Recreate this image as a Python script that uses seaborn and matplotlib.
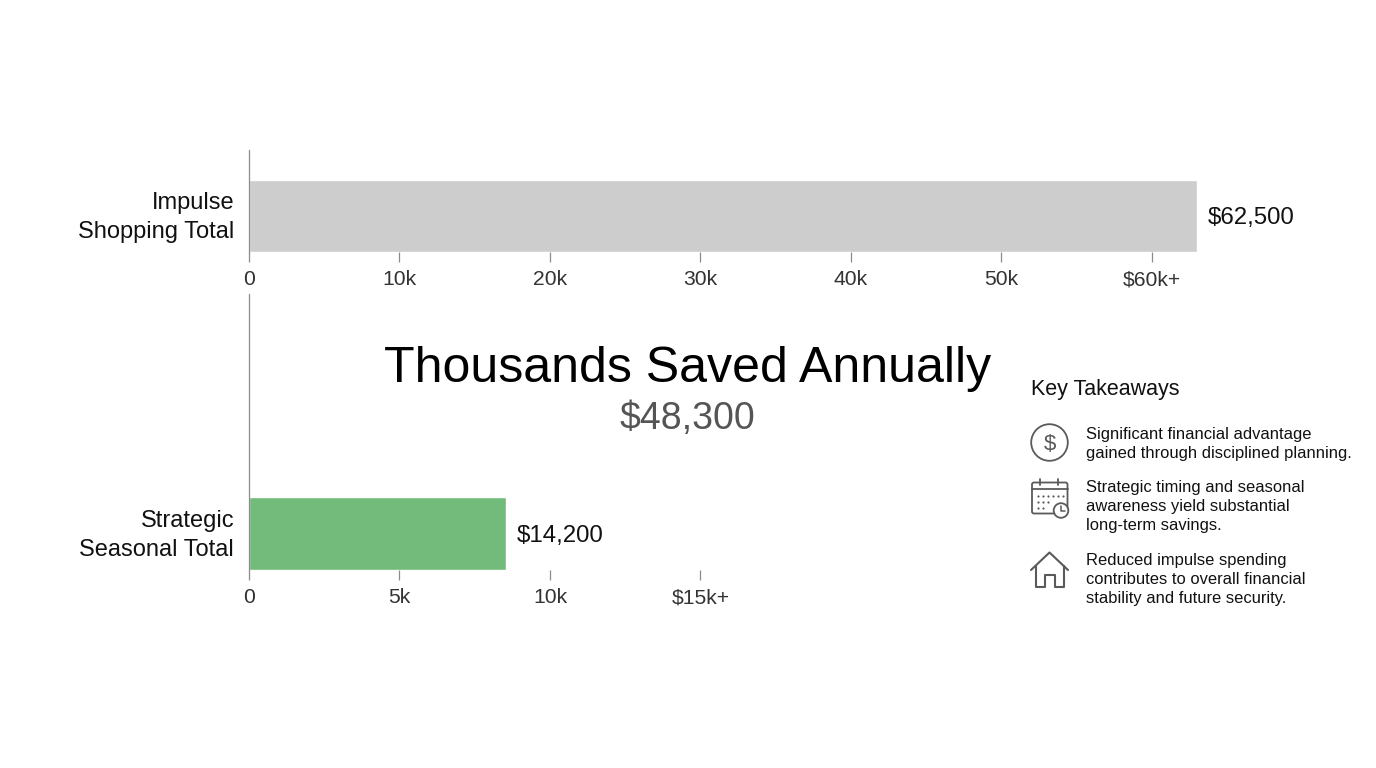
import matplotlib
matplotlib.use("Agg")
import matplotlib.pyplot as plt
from matplotlib.patches import Circle, FancyBboxPatch
import pandas as pd
import seaborn as sns

W, H = 1376, 768

# bar lengths as drawn against their axes, labels as printed
top_category = ["Impulse\nShopping Total"]
top_length = [63000]
top_label = "$62,500"
top_ticks = [0, 10000, 20000, 30000, 40000, 50000, 60000]
top_ticklabels = ["0", "10k", "20k", "30k", "40k", "50k", "$60k+"]

bottom_category = ["Strategic\nSeasonal Total"]
bottom_length = [8540]
bottom_label = "$14,200"
bottom_ticks = [0, 5000, 10000, 15000]
bottom_ticklabels = ["0", "5k", "10k", "$15k+"]

title = "Thousands Saved Annually"
subtitle = "$48,300"
takeaways_title = "Key Takeaways"
takeaways = [
    "Significant financial advantage\ngained through disciplined planning.",
    "Strategic timing and seasonal\nawareness yield substantial\nlong-term savings.",
    "Reduced impulse spending\ncontributes to overall financial\nstability and future security.",
]

sns.set_theme(style="white")
plt.rcParams["font.family"] = ["Liberation Sans", "DejaVu Sans"]

fig = plt.figure(figsize=(W / 100, H / 100), dpi=100, facecolor="white")


def px_axes(left, top, right, bottom):
    return fig.add_axes([left / W, 1 - bottom / H, (right - left) / W, (bottom - top) / H])


def bar_panel(ax, category, length, ticks, ticklabels, xmax, color, label, top_gap):
    df = pd.DataFrame({"category": category, "length": length})
    sns.barplot(data=df, x="length", y="category", orient="h", color=color, width=1.0,
                saturation=1, ax=ax)
    ax.set_xlim(0, xmax)
    ax.set_ylim(0.5, -0.5 - top_gap)
    ax.set_xlabel("")
    ax.set_ylabel("")
    ax.set_xticks(ticks)
    ax.set_xticklabels(ticklabels, fontsize=15.2, color="#333333")
    ax.tick_params(axis="x", bottom=True, length=7.2, width=0.9, color="#8c8c8c", pad=6.3)
    ax.tick_params(axis="y", left=False, pad=4.7, labelsize=17, labelcolor="#111111")
    # labels sit a little above the bar centre
    ax.set_yticks([-0.055])
    ax.set_yticklabels(category, linespacing=1.4, ha="right")
    sns.despine(ax=ax, top=True, right=True, bottom=True)
    ax.spines["left"].set_color("#8c8c8c")
    ax.spines["left"].set_linewidth(0.9)
    ax.annotate(label, (length[0], 0), xytext=(7.7, -1.5), textcoords="offset points",
                fontsize=17.3, color="#111111", va="center", ha="left", annotation_clip=False)


ax_top = px_axes(249, 150, 1249, 251.5)
bar_panel(ax_top, top_category, top_length, top_ticks, top_ticklabels,
          1000 / 150.5 * 10000, "#cccdcc", top_label, 30.3 / 71.2)

ax_bottom = px_axes(249, 294, 1249, 569.5)
bar_panel(ax_bottom, bottom_category, bottom_length, bottom_ticks, bottom_ticklabels,
          1000 / 150.5 * 5000, "#73bb7b", bottom_label, 203.4 / 72.1)

# overlay in picture pixels for the text block and the icons
ov = fig.add_axes([0, 0, 1, 1], facecolor="none")
ov.set_xlim(0, W)
ov.set_ylim(H, 0)
ov.axis("off")

ov.text(687.5, 368.5, title, fontsize=36.1, color="black", ha="center", va="center")
ov.text(687.5, 418.5, subtitle, fontsize=27, color="#555555", ha="center", va="center")
ov.text(1031, 390, takeaways_title, fontsize=15.5, color="#111111", ha="left", va="center")

for txt, y in zip(takeaways, [443.7, 506.7, 579.7]):
    ov.text(1086, y, txt, fontsize=11.9, color="#111111", ha="left", va="center", linespacing=1.34)

ICON = "#5a5a5a"
LW = 1.3

# dollar icon
ov.add_patch(Circle((1049.5, 442.5), 18.3, fill=False, ec=ICON, lw=LW))
ov.text(1049.5, 444, "$", fontsize=16, color=ICON, ha="center", va="center")

# calendar icon
ov.add_patch(FancyBboxPatch((1032, 482.5), 35.5, 31, boxstyle="round,pad=0,rounding_size=2",
                            fill=False, ec=ICON, lw=LW))
ov.plot([1032, 1067.5], [489, 489], color=ICON, lw=LW)
for x in [1039.5, 1058]:
    ov.plot([x, x], [479, 485], color=ICON, lw=LW)
for y, xs in [(496, [1037.5, 1042.5, 1047.5, 1053, 1058, 1063]),
              (502, [1037.5, 1042.5, 1047.5]),
              (508, [1037.5, 1042.5])]:
    ov.scatter(xs, [y] * len(xs), s=2.5, color=ICON, linewidths=0)
ov.add_patch(Circle((1061, 510.5), 7.3, fc="white", ec=ICON, lw=LW, zorder=3))
ov.plot([1061, 1061, 1065], [506, 511, 511], color=ICON, lw=1.1, zorder=4)

# house icon
ov.plot([1031, 1049.5, 1068], [570, 552.5, 570], color=ICON, lw=LW + 0.2)
ov.plot([1035.5, 1035.5, 1045, 1045, 1054.5, 1054.5, 1064, 1064],
        [566, 586.5, 586.5, 575, 575, 586.5, 586.5, 566], color=ICON, lw=LW + 0.2)

fig.savefig("out.png", dpi=100)
